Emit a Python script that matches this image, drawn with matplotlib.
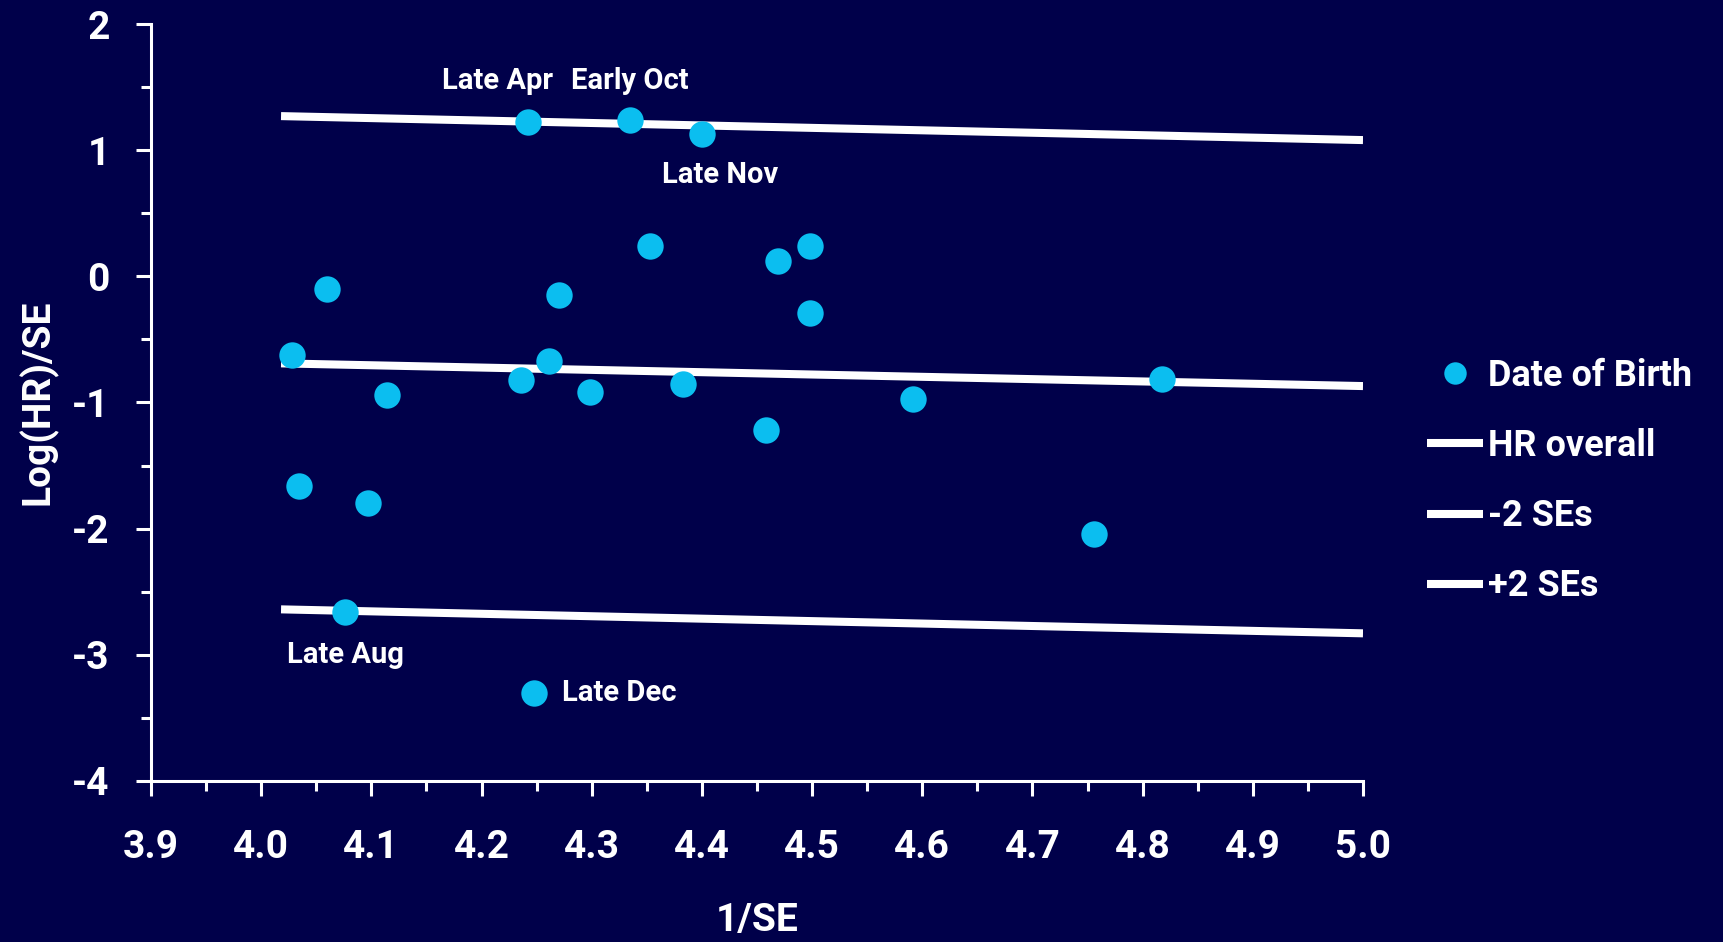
import matplotlib
matplotlib.use('Agg')
import matplotlib.pyplot as plt
from matplotlib.ticker import MultipleLocator, FormatStrFormatter

plt.rcParams['font.family'] = ['Roboto', 'DejaVu Sans']
plt.rcParams['font.weight'] = 'bold'
plt.rcParams['axes.unicode_minus'] = False

BG = '#00004A'
DOT = '#0BBEF0'
W = 'bold'

# funnel plot data: x = 1/SE, y = log(HR)/SE
inv_se = [4.028, 4.034, 4.060, 4.076, 4.097, 4.114, 4.236, 4.242, 4.248, 4.261,
          4.270, 4.298, 4.335, 4.353, 4.383, 4.400, 4.458, 4.469, 4.498, 4.498,
          4.592, 4.756, 4.818]
log_hr_se = [-0.62, -1.66, -0.10, -2.66, -1.80, -0.94, -0.82, 1.22, -3.30, -0.67,
             -0.15, -0.92, 1.24, 0.24, -0.85, 1.13, -1.22, 0.12, 0.24, -0.29,
             -0.97, -2.04, -0.81]

# reference lines
line_x = [4.018, 5.0]
hr_overall = [-0.69, -0.87]
minus_2se = [-2.64, -2.83]
plus_2se = [1.27, 1.08]

# labelled points
labels = ['Late Apr', 'Early Oct', 'Late Nov', 'Late Aug', 'Late Dec']
label_x = [4.242, 4.335, 4.400, 4.076, 4.248]
label_y = [1.22, 1.24, 1.13, -2.66, -3.30]

fig = plt.figure(figsize=(17.24, 9.42), dpi=100)
fig.patch.set_facecolor(BG)
ax = fig.add_axes([0.0876, 0.171, 0.7030, 0.8035])
ax.set_facecolor(BG)

ax.plot(line_x, hr_overall, color='white', lw=5.8, solid_capstyle='butt', label='HR overall', zorder=2)
ax.plot(line_x, minus_2se, color='white', lw=5.8, solid_capstyle='butt', label='-2 SEs', zorder=2)
ax.plot(line_x, plus_2se, color='white', lw=5.8, solid_capstyle='butt', label='+2 SEs', zorder=2)
ax.plot(inv_se, log_hr_se, 'o', color=DOT, ms=19, mec='none', label='Date of Birth', zorder=3)

# annotations (offsets in points)
offsets = [(-21.5, 29.5), (-0.7, 28), (13, -30), (0, -31), (19.5, 0)]
for txt, x, y, off in zip(labels, label_x, label_y, offsets):
    ha = 'left' if txt == 'Late Dec' else 'center'
    ax.annotate(txt, (x, y), xytext=off, textcoords='offset points',
                ha=ha, va='center', color='white', fontsize=21, fontweight=W)

ax.set_xlim(3.9, 5.0)
ax.set_ylim(-4, 2)
ax.xaxis.set_major_locator(MultipleLocator(0.1))
ax.xaxis.set_minor_locator(MultipleLocator(0.05))
ax.yaxis.set_major_locator(MultipleLocator(1))
ax.yaxis.set_minor_locator(MultipleLocator(0.5))
ax.xaxis.set_major_formatter(FormatStrFormatter('%.1f'))

for s in ['top', 'right']:
    ax.spines[s].set_visible(False)
for s in ['left', 'bottom']:
    ax.spines[s].set_color('white')
    ax.spines[s].set_linewidth(2.2)

ax.tick_params(which='both', colors='white', width=2.2, direction='out')
ax.tick_params(which='major', length=10.8, labelsize=28)
ax.tick_params(which='minor', length=7.2)
ax.tick_params(axis='x', which='major', pad=24)
ax.tick_params(axis='y', which='major', pad=19)
for lab in ax.get_xticklabels() + ax.get_yticklabels():
    lab.set_fontweight(W)

ax.set_xlabel('1/SE', color='white', fontsize=28, fontweight=W, va='center')
ax.xaxis.set_label_coords(0.5, -0.185)
ax.set_ylabel('Log(HR)/SE', color='white', fontsize=28, fontweight=W, va='center')
ax.yaxis.set_label_coords(-0.0932, 0.5)

handles, lbls = ax.get_legend_handles_labels()
order = [3, 0, 1, 2]
leg = fig.legend([handles[i] for i in order], [lbls[i] for i in order],
                 loc='center left', bbox_to_anchor=(1427 / 1724, 1 - 481 / 942),
                 frameon=False, fontsize=26, handlelength=1.55, handletextpad=0.15,
                 labelspacing=0.95, borderpad=0, borderaxespad=0, markerscale=0.85)
for t in leg.get_texts():
    t.set_color('white')
    t.set_fontweight(W)

fig.savefig('out.png', dpi=100, facecolor=BG)
